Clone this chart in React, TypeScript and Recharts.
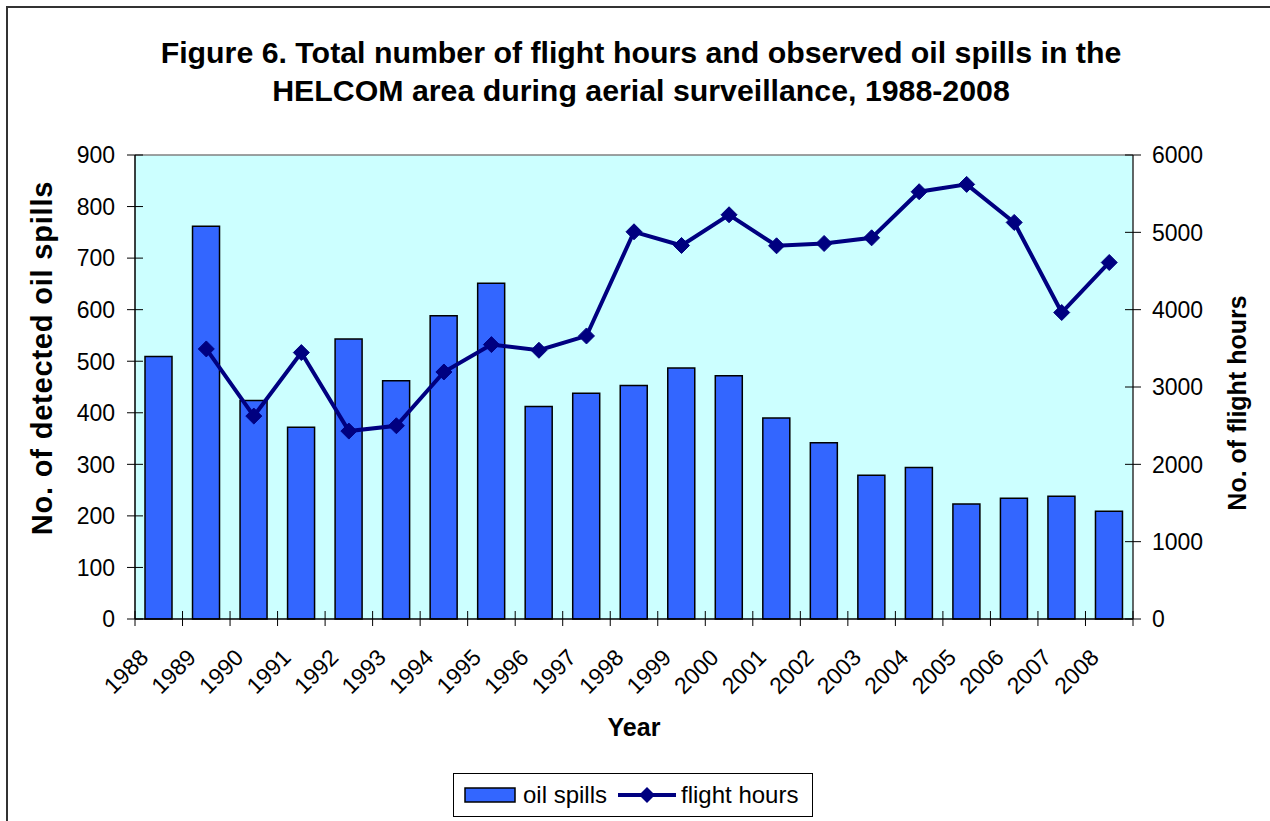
import React from 'react';
import { ComposedChart, Bar, Line, XAxis, YAxis, CartesianGrid, ReferenceLine, Legend } from 'recharts';

const years = ['1988', '1989', '1990', '1991', '1992', '1993', '1994', '1995', '1996', '1997', '1998',
  '1999', '2000', '2001', '2002', '2003', '2004', '2005', '2006', '2007', '2008'];
const oilSpills = [509, 762, 424, 372, 543, 462, 588, 651, 412, 438, 453, 487, 472, 390, 342, 279, 294, 223, 234, 238, 209];
const flightHours = [null, 3492, 2624, 3445, 2430, 2499, 3194, 3548, 3475, 3660, 5007, 4830, 5227, 4826, 4856,
  4929, 5525, 5620, 5128, 3963, 4610];
const spillTicks = [0, 100, 200, 300, 400, 500, 600, 700, 800, 900];
const hourTicks = [0, 1000, 2000, 3000, 4000, 5000, 6000];

const data = years.map((year, i) => ({ year, oilSpills: oilSpills[i], flightHours: flightHours[i] }));

const FONT = '"Liberation Sans", Arial, Helvetica, sans-serif';
const BAR_BLUE = '#3366FF';
const NAVY = '#000080';

// plot area geometry
const PLOT_LEFT = 135;
const PLOT_RIGHT = 1133;
const HALF_BAND = (PLOT_RIGHT - PLOT_LEFT) / years.length / 2;

function XTick(props: any) {
  const { x, y, payload, index } = props;
  return (
    <g>
      <line x1={x - HALF_BAND} x2={x - HALF_BAND} y1={y - 8} y2={y + 7} stroke="#000" strokeWidth={1} />
      {index === years.length - 1 && (
        <line x1={x + HALF_BAND} x2={x + HALF_BAND} y1={y - 8} y2={y + 7} stroke="#000" strokeWidth={1} />
      )}
      <text
        transform={`translate(${x - 9},${y + 40}) rotate(-45)`}
        textAnchor="end"
        fontSize={23}
        fontFamily={FONT}
        fill="#000"
      >
        {payload.value}
      </text>
    </g>
  );
}

function LeftTick(props: any) {
  const { x, y, payload } = props;
  return (
    <g>
      <line x1={x - 8} x2={x + 8} y1={y} y2={y} stroke="#000" strokeWidth={1} />
      <text x={x - 20} y={y} dy="0.36em" textAnchor="end" fontSize={23} fontFamily={FONT} fill="#000">
        {payload.value}
      </text>
    </g>
  );
}

function RightTick(props: any) {
  const { x, y, payload } = props;
  return (
    <g>
      <line x1={x - 8} x2={x + 8} y1={y} y2={y} stroke="#000" strokeWidth={1} />
      <text x={x + 19} y={y} dy="0.36em" textAnchor="start" fontSize={23} fontFamily={FONT} fill="#000">
        {payload.value}
      </text>
    </g>
  );
}

function Diamond(props: any) {
  const { cx, cy, value } = props;
  if (value == null || cx == null || cy == null) return <g />;
  const r = 8;
  return (
    <polygon
      points={`${cx},${cy - r} ${cx + r},${cy} ${cx},${cy + r} ${cx - r},${cy}`}
      fill={NAVY}
      stroke={NAVY}
      strokeWidth={1}
    />
  );
}

function LegendBox() {
  return (
    <div
      style={{
        width: 360,
        height: 44,
        border: '1px solid #000',
        boxSizing: 'border-box',
        background: '#fff',
        display: 'flex',
        alignItems: 'center',
        fontFamily: FONT,
        fontSize: 24,
        color: '#000',
      }}
    >
      <svg width={52} height={16} style={{ marginLeft: 10 }}>
        <rect x={1} y={1} width={50} height={14} fill={BAR_BLUE} stroke="#000" strokeWidth={1.5} />
      </svg>
      <span style={{ marginLeft: 7 }}>oil spills</span>
      <svg width={62} height={20} style={{ marginLeft: 10 }}>
        <line x1={1} x2={59} y1={10} y2={10} stroke={NAVY} strokeWidth={4} />
        <polygon points="30,2 38,10 30,18 22,10" fill={NAVY} />
      </svg>
      <span style={{ marginLeft: 2 }}>flight hours</span>
    </div>
  );
}

export default function App() {
  return (
    <div
      style={{
        position: 'absolute',
        left: 0,
        top: 0,
        width: 1270,
        height: 821,
        overflow: 'hidden',
        background: '#fff',
        fontFamily: FONT,
      }}
    >
      {/* chart frame (right and bottom edges fall outside the picture) */}
      <div
        style={{
          position: 'absolute',
          left: 6,
          top: 6,
          width: 1400,
          height: 1000,
          borderLeft: '2px solid #333',
          borderTop: '2px solid #333',
        }}
      />

      <div
        style={{
          position: 'absolute',
          left: 0,
          top: 34,
          width: 1282,
          textAlign: 'center',
          fontWeight: 'bold',
          fontSize: 30.3,
          lineHeight: '38px',
          color: '#000',
        }}
      >
        Figure 6. Total number of flight hours and observed oil spills in the
        <br />
        HELCOM area during aerial surveillance, 1988-2008
      </div>

      <div style={{ position: 'absolute', left: 0, top: 0 }}>
        <ComposedChart
          width={1270}
          height={821}
          data={data}
          margin={{ top: 155, right: 77, bottom: 102, left: 75 }}
        >
          <CartesianGrid fill="#CCFFFF" horizontal={false} vertical={false} yAxisId="left" />
          <XAxis
            dataKey="year"
            interval={0}
            tickLine={false}
            tickSize={0}
            tickMargin={0}
            height={100}
            axisLine={{ stroke: '#000', strokeWidth: 1.5 }}
            tick={<XTick />}
            label={() => (
              <text x={634} y={736} textAnchor="middle" fontSize={25} fontWeight="bold" fontFamily={FONT} fill="#000">
                Year
              </text>
            )}
          />
          <YAxis
            yAxisId="left"
            width={60}
            domain={[0, 900]}
            ticks={spillTicks}
            interval={0}
            tickLine={false}
            tickSize={0}
            tickMargin={0}
            axisLine={{ stroke: '#000', strokeWidth: 1.5 }}
            tick={<LeftTick />}
            label={() => (
              <text
                x={42}
                y={358}
                transform="rotate(-90 42 358)"
                textAnchor="middle"
                dominantBaseline="central"
                fontSize={29}
                letterSpacing={0.8}
                fontWeight="bold"
                fontFamily={FONT}
                fill="#000"
              >
                No. of detected oil spills
              </text>
            )}
          />
          <YAxis
            yAxisId="right"
            orientation="right"
            width={60}
            domain={[0, 6000]}
            ticks={hourTicks}
            interval={0}
            tickLine={false}
            tickSize={0}
            tickMargin={0}
            axisLine={{ stroke: '#333', strokeWidth: 1.5 }}
            tick={<RightTick />}
            label={() => (
              <text
                x={1237}
                y={403}
                transform="rotate(-90 1237 403)"
                textAnchor="middle"
                dominantBaseline="central"
                fontSize={25}
                fontWeight="bold"
                fontFamily={FONT}
                fill="#000"
              >
                No. of flight hours
              </text>
            )}
          />
          <ReferenceLine yAxisId="left" y={900} stroke="#808080" strokeWidth={1.5} />
          <Bar
            yAxisId="left"
            dataKey="oilSpills"
            name="oil spills"
            barSize={27}
            fill={BAR_BLUE}
            stroke="#000"
            strokeWidth={1.5}
            isAnimationActive={false}
          />
          <Line
            yAxisId="right"
            type="linear"
            dataKey="flightHours"
            name="flight hours"
            stroke={NAVY}
            strokeWidth={4}
            dot={<Diamond />}
            activeDot={false}
            isAnimationActive={false}
          />
          <Legend
            layout="horizontal"
            verticalAlign="middle"
            align="center"
            wrapperStyle={{ left: 453, top: 773, width: 360, height: 44 }}
            content={() => <LegendBox />}
          />
        </ComposedChart>
      </div>
    </div>
  );
}
